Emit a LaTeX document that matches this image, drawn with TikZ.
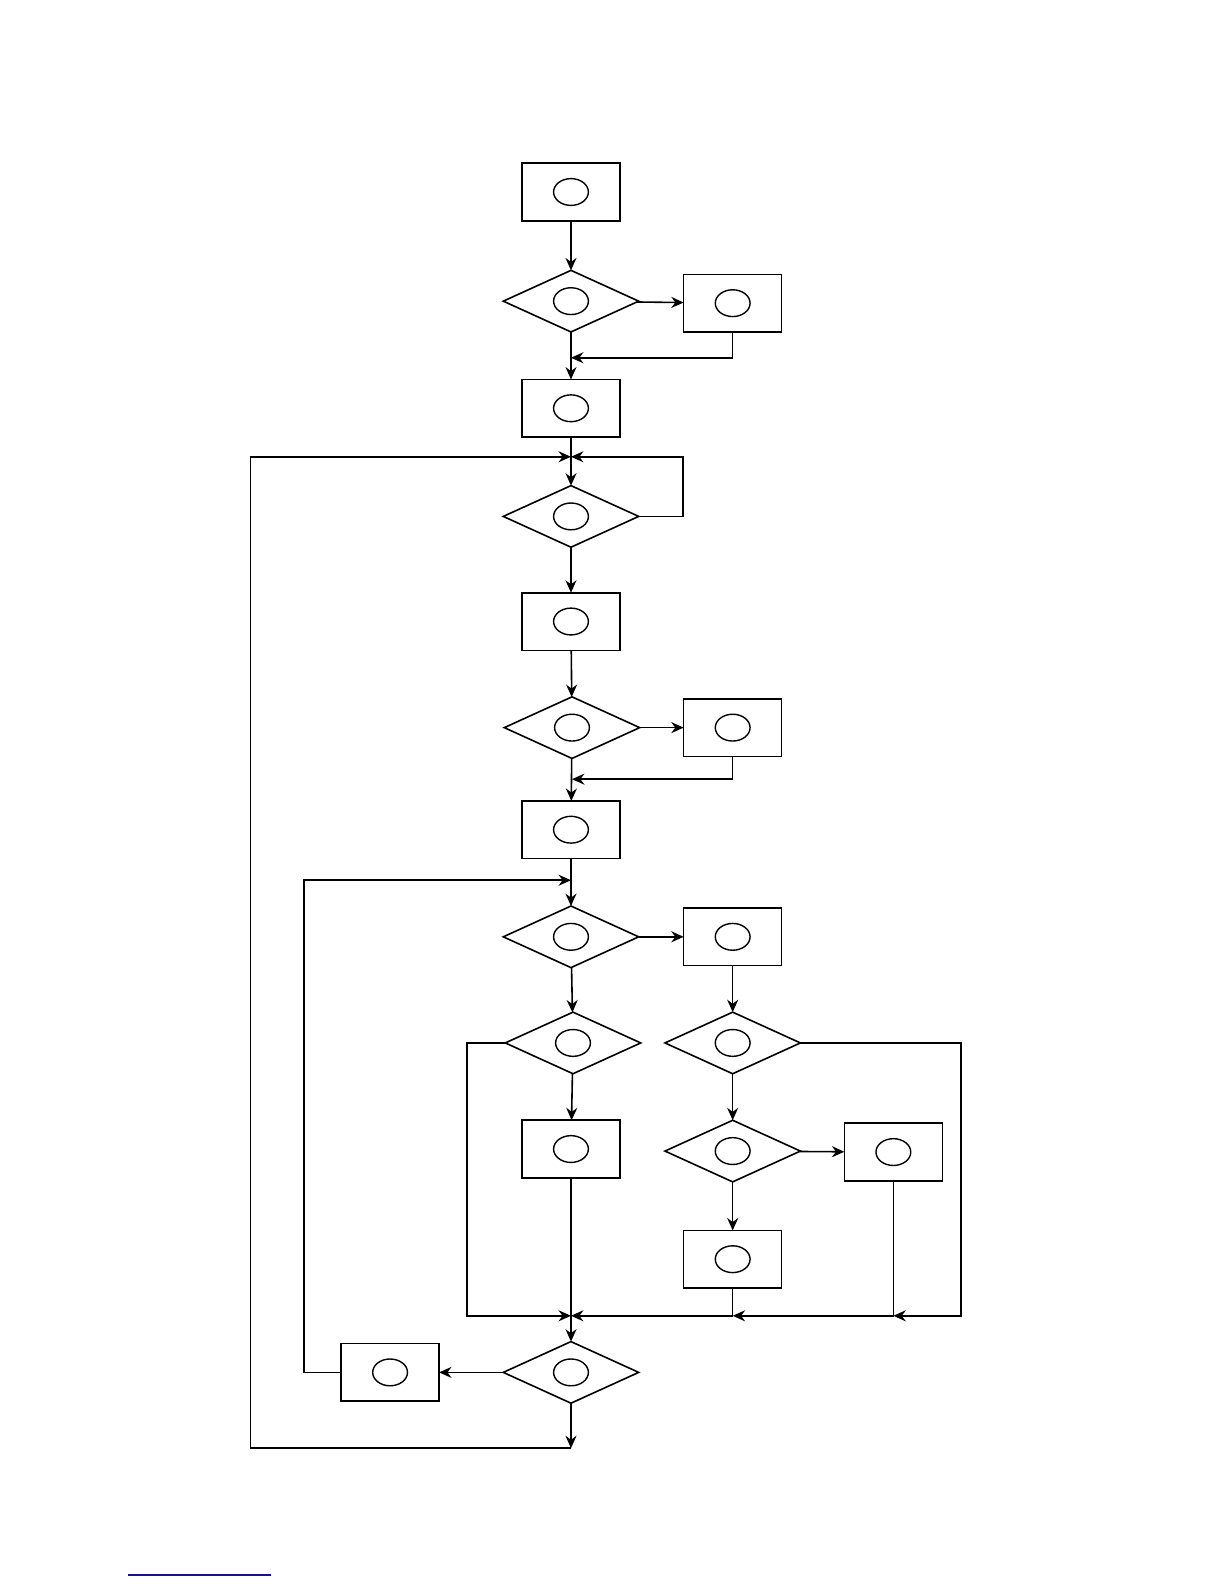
\documentclass[tikz,border=0pt]{standalone}
\usepackage{xcolor}
\usepackage{tikz}
\usetikzlibrary{shapes,arrows,positioning,calc,arrows.meta}
\definecolor{rulenavy}{RGB}{20,20,140}

\begin{document}
\begin{tikzpicture}[x=0.5053pt, y=-0.5053pt, line width=0.8pt,
    blk/.style={draw, rectangle, minimum width=49pt, minimum height=28.8pt, inner sep=0pt, outer sep=0pt,
        path picture={\draw[line width=0.7pt] (path picture bounding box.center) ellipse [x radius=8.7pt, y radius=6.7pt];}},
    dec/.style={draw, diamond, minimum width=67.7pt, minimum height=30.8pt, inner sep=0pt, outer sep=0pt,
        path picture={\draw[line width=0.7pt] (path picture bounding box.center) ellipse [x radius=8.7pt, y radius=6.7pt];}},
    arr/.style={-{Stealth[length=6.2pt, width=5.5pt]}}]
    \useasboundingbox (0pt,0pt) rectangle (612pt,-792pt);

    % Blocks and decisions
    \node[blk] (b1) at (565,190) {};
    \node[dec] (d1) at (565,298) {};
    \node[blk] (b2) at (725,300) {};
    \node[blk] (b3) at (565,404) {};
    \node[dec] (d2) at (565,511) {};
    \node[blk] (b4) at (565,615) {};
    \node[dec] (d3) at (566,720) {};
    \node[blk] (b5) at (725,720) {};
    \node[blk] (b6) at (565,821) {};
    \node[dec] (d4) at (565,927) {};
    \node[blk] (b7) at (725,927) {};
    \node[dec] (d5) at (567,1032) {};
    \node[dec] (d6) at (725,1032) {};
    \node[blk] (b8) at (565,1137) {};
    \node[dec] (d8) at (725,1139) {};
    \node[blk] (b9) at (884,1140) {};
    \node[blk] (b10) at (725,1246) {};
    \node[dec] (d7) at (565,1358) {};
    \node[blk] (b11) at (386,1358) {};

    % Junction points
    \coordinate (j1) at (565,354);
    \coordinate (j2) at (565,452);
    \coordinate (j3) at (566,771);
    \coordinate (j4) at (565,871);
    \coordinate (j5) at (565,1302);
    \coordinate (j6) at (725,1302);
    \coordinate (j7) at (884,1302);
    \coordinate (j8) at (565,1433);

    % Main line
    \draw[arr] (b1) -- (d1);
    \draw[arr] (d1) -- (b3);
    \draw[arr] (b3) -- (d2);
    \draw[arr] (d2) -- (b4);
    \draw[arr] (b4) -- (d3);
    \draw[arr] (d3) -- (b6);
    \draw[arr] (b6) -- (d4);
    \draw[arr] (d4) -- (d5);
    \draw[arr] (d5) -- (b8);
    \draw[arr] (b8) -- (d7);
    \draw[arr] (d7) -- (j8);

    % Side branches
    \draw[arr] (d1) -- (b2);
    \draw[arr] (b2.south) |- (j1);
    \draw[arr] (d2.east) -- ++(44,0) |- (j2);
    \draw[arr] (d3) -- (b5);
    \draw[arr] (b5.south) |- (j3);
    \draw[arr] (d4) -- (b7);
    \draw[arr] (b7) -- (d6);
    \draw[arr] (d6) -- (d8);
    \draw[arr] (d8) -- (b9);
    \draw[arr] (d8) -- (b10);
    \draw[arr] (d5.west) -| (462,1302) -- (j5);
    \draw[arr] (b10.south) |- (j5);
    \draw[arr] (b9.south) |- (j6);
    \draw[arr] (d6.east) -| (951,1302) -- (j7);

    % Loops back
    \draw[arr] (d7) -- (b11);
    \draw[arr] (b11.west) -| (301,871) -- (j4);
    \draw[arr] (j8) -| (248,452) -- (j2);

    % Footnote rule
    \draw[rulenavy, line width=1pt] (127,1558) -- (268,1558);
\end{tikzpicture}
\end{document}
